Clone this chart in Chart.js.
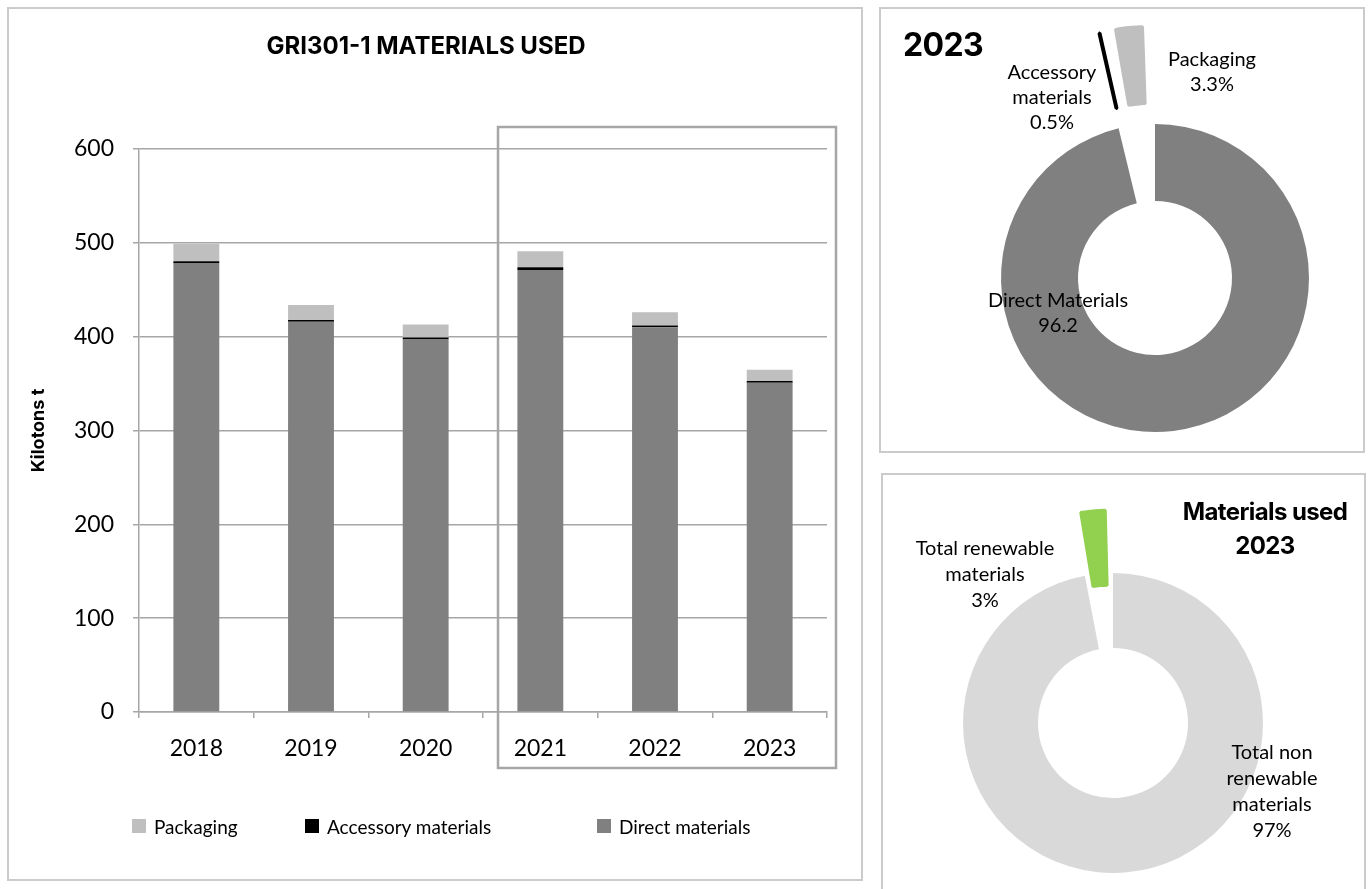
<!DOCTYPE html>
<html>
<head>
<meta charset="utf-8">
<title>GRI301-1 Materials used</title>
<script src="https://cdn.jsdelivr.net/npm/chart.js@4.4.1/dist/chart.umd.min.js"></script>
<style>
  html, body { margin: 0; padding: 0; background: #fff; }
  body { width: 1368px; height: 889px; position: relative; overflow: hidden; font-family: Lato, sans-serif; }
  .panel { position: absolute; border: 2px solid #cbcbcb; box-sizing: border-box; }
  canvas { position: absolute; }
  .lg { position: absolute; height: 24px; display: flex; align-items: center; white-space: nowrap;
        font: 19px Lato, sans-serif; color: #000; }
  .lg i { display: inline-block; width: 14px; height: 14px; margin-right: 8px; }
</style>
</head>
<body>
<div class="panel" style="left:7px;top:7px;width:856px;height:874px"></div>
<div class="panel" style="left:879px;top:7px;width:486px;height:446px"></div>
<div class="panel" style="left:881px;top:473px;width:485px;height:440px"></div>

<canvas id="bars" width="854" height="872" style="left:8px;top:8px"></canvas>
<canvas id="mix" width="484" height="444" style="left:880px;top:8px"></canvas>
<canvas id="renew" width="482" height="415" style="left:882px;top:474px"></canvas>
<div id="legend"></div>

<script>
// ---- Materials used per year (kilotons) ----
const years = ['2018', '2019', '2020', '2021', '2022', '2023'];
const directMaterials    = [478, 416, 397, 471, 410, 351];
const accessoryMaterials = [2.5, 1.8, 2, 3, 2, 1.8];
const packaging          = [18.6, 16, 14, 17, 14, 12];
const yTickMin = 0, yTickMax = 600, yTickStep = 100;

// ---- 2023 split by material type (%) ----
const mixNames  = [['Direct Materials'], ['Accessory', 'materials'], ['Packaging']];
const mixShare  = [96.2, 0.5, 3.3];
const mixUnits  = ['', '%', '%'];

// ---- 2023 renewable vs non renewable (%) ----
const renewNames = [['Total non', 'renewable', 'materials'], ['Total renewable', 'materials']];
const renewShare = [97, 3];
const renewUnits = ['%', '%'];

const GRID = '#a6a6a6';
const C_DIRECT = '#808080', C_ACCESS = '#000000', C_PACK = '#bfbfbf';
const C_NONRENEW = '#d9d9d9', C_RENEW = '#92d050';

Chart.defaults.color = '#000';
Chart.defaults.font.family = 'Lato, sans-serif';
Chart.defaults.animation = false;
Chart.defaults.events = [];

// Frame around the most recent three years
const recentFrame = {
  id: 'recentFrame',
  afterDraw(chart) {
    const x = chart.scales.x, area = chart.chartArea, ctx = chart.ctx;
    const firstIdx = years.indexOf('2021');
    const boundary = (x.getPixelForValue(firstIdx - 1) + x.getPixelForValue(firstIdx)) / 2;
    const left = boundary + 15, right = area.right + 9;
    const top = area.top - 22, bottom = area.bottom + 56;
    ctx.save();
    ctx.strokeStyle = GRID;
    ctx.lineWidth = 2.5;
    ctx.strokeRect(left, top, right - left, bottom - top);
    ctx.restore();
  }
};

new Chart(document.getElementById('bars'), {
  type: 'bar',
  data: {
    labels: years,
    datasets: [
      { label: 'Direct materials', data: directMaterials, backgroundColor: C_DIRECT },
      { label: 'Accessory materials', data: accessoryMaterials, backgroundColor: C_ACCESS },
      { label: 'Packaging', data: packaging, backgroundColor: C_PACK }
    ]
  },
  options: {
    responsive: false,
    categoryPercentage: 1,
    barPercentage: 0.4,
    layout: { padding: { left: 17, right: 35, top: 0, bottom: 108 } },
    plugins: {
      legend: { display: false },
      tooltip: { enabled: false },
      title: {
        display: true,
        text: 'GRI301-1 MATERIALS USED',
        font: { family: 'Inter, sans-serif', weight: '700', size: 24 },
        color: '#000',
        padding: { top: 24, bottom: 88.2 }
      }
    },
    scales: {
      x: {
        stacked: true,
        grid: { drawOnChartArea: false, drawTicks: true, tickLength: 6, color: GRID, lineWidth: 1.5 },
        border: { color: GRID, width: 1.5 },
        ticks: { font: { size: 23 }, padding: 17, color: '#000' },
        afterFit(s) { s.height = 60; }
      },
      y: {
        stacked: true,
        min: yTickMin, max: yTickMax,
        grid: { color: GRID, lineWidth: 1.5, tickLength: 6 },
        border: { color: GRID, width: 1.5 },
        ticks: { stepSize: yTickStep, font: { size: 23 }, padding: 19, color: '#000' },
        title: {
          display: true, text: 'Kilotons t',
          font: { family: 'Inter, sans-serif', weight: '700', size: 18 },
          color: '#000', padding: { top: 3, bottom: 0 }
        },
        afterFit(s) { s.width = 114; }
      }
    }
  },
  plugins: [recentFrame]
});

// Legend below the bars (Packaging, Accessory, Direct)
const legendItems = [
  { text: 'Packaging', color: C_PACK, left: 132 },
  { text: 'Accessory materials', color: C_ACCESS, left: 305 },
  { text: 'Direct materials', color: C_DIRECT, left: 597 }
];
const legendEl = document.getElementById('legend');
legendItems.forEach(it => {
  const d = document.createElement('div');
  d.className = 'lg';
  d.style.left = it.left + 'px';
  d.style.top = '814px';
  const sw = document.createElement('i');
  sw.style.background = it.color;
  d.appendChild(sw);
  d.appendChild(document.createTextNode(it.text));
  legendEl.appendChild(d);
});

// Slice captions and heading for the doughnuts
function sliceCaptions(cfg) {
  return {
    id: 'sliceCaptions',
    afterDraw(chart) {
      const ctx = chart.ctx;
      const arc = chart.getDatasetMeta(0).data[0];
      const cx = arc.x, cy = arc.y;
      ctx.save();
      ctx.fillStyle = '#000';
      ctx.textAlign = 'center';
      ctx.textBaseline = 'middle';
      ctx.font = '20px Lato, sans-serif';
      cfg.names.forEach((lines, i) => {
        const all = lines.concat([cfg.values[i] + cfg.units[i]]);
        const p = cfg.place[i];
        all.forEach((t, k) => ctx.fillText(t, cx + p.dx, cy + p.dy + k * cfg.lineHeight));
      });
      ctx.font = cfg.headFont;
      ctx.letterSpacing = '-0.6px';
      ctx.textAlign = cfg.headAlign;
      cfg.heading.forEach((t, k) => ctx.fillText(t, cfg.headX, cfg.headY + k * cfg.headLine));
      ctx.restore();
    }
  };
}

new Chart(document.getElementById('mix'), {
  type: 'doughnut',
  data: {
    labels: mixNames.map(n => n.join(' ')),
    datasets: [{
      data: mixShare,
      backgroundColor: [C_DIRECT, C_ACCESS, C_PACK],
      borderColor: [C_DIRECT, C_ACCESS, C_PACK],
      borderWidth: [0, 4, 3],
      offset: [0, 197, 218]
    }]
  },
  options: {
    responsive: false,
    radius: 154,
    cutout: '50%',
    layout: { padding: { left: 66, right: 0, top: 96, bottom: 0 } },
    plugins: { legend: { display: false }, tooltip: { enabled: false } }
  },
  plugins: [sliceCaptions({
    names: mixNames, values: mixShare, units: mixUnits, lineHeight: 25,
    place: [{ dx: -97, dy: 23 }, { dx: -103, dy: -205 }, { dx: 57, dy: -218 }],
    heading: ['2023'], headFont: '700 32px Inter, sans-serif', headAlign: 'left',
    headX: 23, headY: 38, headLine: 0
  })]
});

new Chart(document.getElementById('renew'), {
  type: 'doughnut',
  data: {
    labels: renewNames.map(n => n.join(' ')),
    datasets: [{
      data: renewShare,
      backgroundColor: [C_NONRENEW, C_RENEW],
      borderColor: [C_NONRENEW, C_RENEW],
      borderWidth: [0, 3],
      offset: [0, 139]
    }]
  },
  options: {
    responsive: false,
    radius: 150,
    cutout: '50%',
    layout: { padding: { left: 0, right: 20, top: 83, bottom: 0 } },
    plugins: { legend: { display: false }, tooltip: { enabled: false } }
  },
  plugins: [sliceCaptions({
    names: renewNames, values: renewShare, units: renewUnits, lineHeight: 26,
    place: [{ dx: 159, dy: 30 }, { dx: -128, dy: -174 }],
    heading: ['Materials used', '2023'], headFont: '700 24px Inter, sans-serif', headAlign: 'center',
    headX: 383, headY: 39, headLine: 34
  })]
});
</script>
</body>
</html>
